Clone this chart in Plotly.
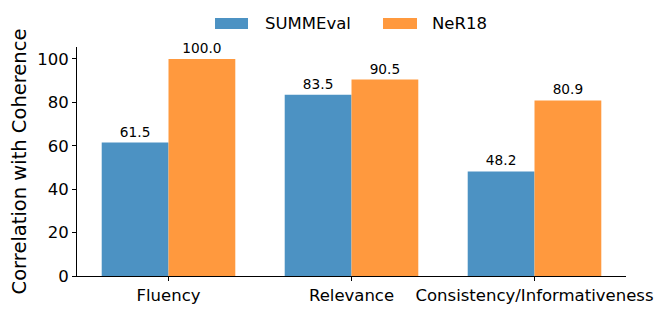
import plotly.graph_objects as go

categories = ["Fluency", "Relevance", "Consistency/Informativeness"]
summeval = [61.5, 83.5, 48.2]
ner18 = [100.0, 90.5, 80.9]
series_names = ["SUMMEval", "NeR18"]
y_ticks = [0, 20, 40, 60, 80, 100]

FONT = "DejaVu Sans"
BLUE = "#4c92c3"
ORANGE = "#ff993e"

fig = go.Figure()
for name, vals, col in [(series_names[0], summeval, BLUE), (series_names[1], ner18, ORANGE)]:
    fig.add_trace(go.Bar(
        x=categories, y=vals, name=name, marker_color=col,
        marker_line_width=0, texttemplate="%{y:.1f}", textposition="outside",
        textfont=dict(family=FONT, size=13.7, color="black"), cliponaxis=False,
        showlegend=False,
    ))

# legend drawn as swatches + labels above the plot (layout elements, paper coords)
legend_items = [(series_names[0], BLUE, 0.2514, 0.3115, 0.3388),
                (series_names[1], ORANGE, 0.5574, 0.6193, 0.6430)]
for name, col, x0, x1, xt in legend_items:
    fig.add_shape(type="rect", xref="paper", yref="paper", x0=x0, x1=x1,
                  y0=1.0786, y1=1.1266, fillcolor=col, line_width=0)
    fig.add_annotation(xref="paper", yref="paper", x=xt, y=1.1026, text=name,
                       showarrow=False, xanchor="left", yanchor="middle",
                       font=dict(family=FONT, size=16.5, color="black"))

# page body adds an 8px margin, so the figure is sized to fit inside the window
fig.update_layout(
    width=648, height=297,
    margin=dict(l=69, r=30, t=39, b=29, autoexpand=False),
    paper_bgcolor="white", plot_bgcolor="white",
    barmode="group", bargap=0.27, bargroupgap=0,
    font=dict(family=FONT, size=16.5, color="black"),
    showlegend=False,
)
fig.update_xaxes(
    type="category", range=[-0.5, 2.5],
    showline=True, linecolor="black", linewidth=1,
    ticks="outside", ticklen=4, tickcolor="black",
    tickfont=dict(family=FONT, size=16.5),
    showgrid=False, zeroline=False,
)
fig.update_yaxes(
    range=[0, 105.5], tickvals=y_ticks,
    showline=True, linecolor="black", linewidth=1,
    ticks="outside", ticklen=4, tickcolor="black",
    tickfont=dict(family=FONT, size=16.5),
    showgrid=False, zeroline=False,
    title=dict(text="Correlation with Coherence", font=dict(family=FONT, size=19.5), standoff=6),
)

fig.write_html("out.html")
